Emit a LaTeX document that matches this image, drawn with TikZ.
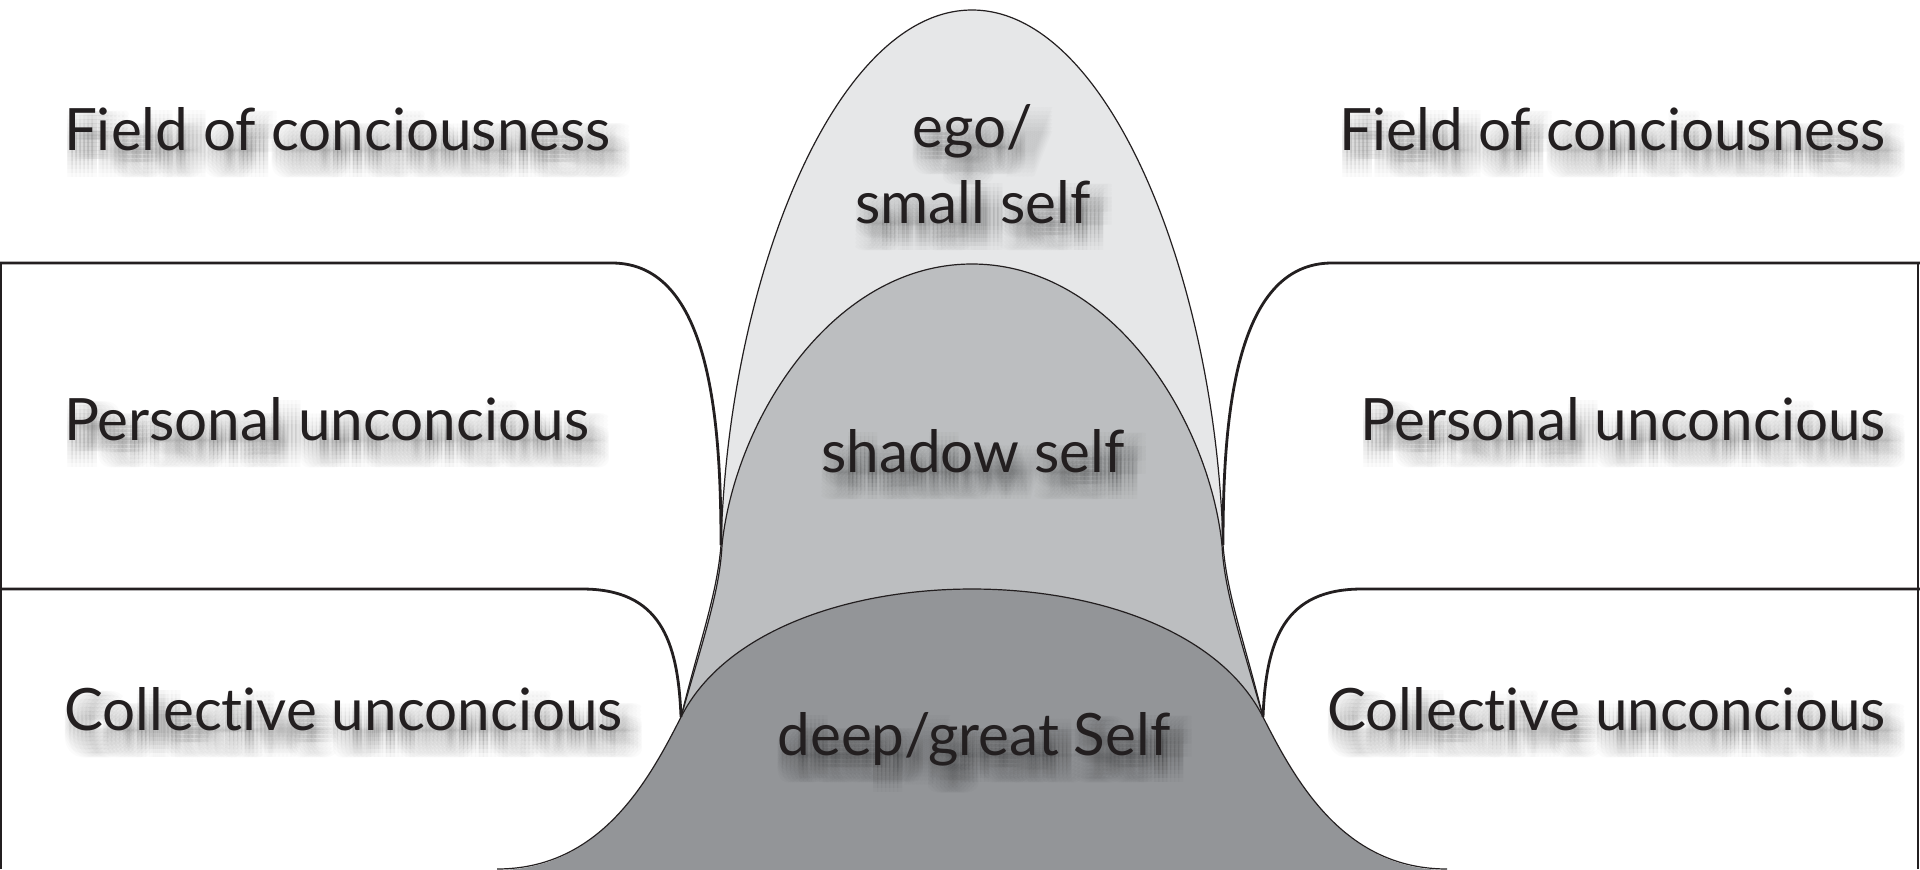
\documentclass[tikz,border=0pt]{standalone}
\usepackage{fontspec}
\newfontfamily\lblfont[Ligatures=NoCommon]{Lato}
\definecolor{ink}{HTML}{231F20}
\definecolor{egofill}{HTML}{E6E7E8}
\definecolor{shadowfill}{HTML}{BCBEC0}
\definecolor{deepfill}{HTML}{939598}
\newcommand{\shlabel}[5]{%
  \foreach \i in {-3,...,3}{\foreach \j in {-3,...,3}{
    \node[lbl, text=black, text opacity=0.017, anchor=#1] at ({#3+10+4*(\i)}, {#4+15+4*(\j)}) {#5};}}
  \node[lbl, anchor=#1] (#2) at (#3,#4) {#5};
}
\begin{document}
\begin{tikzpicture}[x=0.5pt,y=-0.5pt,
  lbl/.style={font=\lblfont\fontsize{29.2}{35}\selectfont, text=ink, inner sep=0pt, outer sep=0pt},
  boxline/.style={draw=ink, line width=1.4pt},
  outline/.style={draw=ink, line width=0.6pt}]
\useasboundingbox (0,0) rectangle (1920,869);
\fill[white] (0,0) rectangle (1920,869);

% junction points
\coordinate (jl) at (681,717);
\coordinate (jr) at (1263,717);
\coordinate (pl) at (721,545);
\coordinate (pr) at (1223,545);

% frame lines
\draw[boxline] (1,869) -- (1,263);
\draw[boxline] (1918,869) -- (1918,263);

% ego
\path[fill=egofill] (jl) .. controls (700,640) and (717,595) .. (pl)
  .. controls (728,280) and (835,10) .. (972,10)
  .. controls (1109,10) and (1216,280) .. (pr)
  .. controls (1227,595) and (1244,640) .. (jr) -- cycle;
\draw[outline] (jl) .. controls (700,640) and (717,595) .. (pl)
  .. controls (728,280) and (835,10) .. (972,10)
  .. controls (1109,10) and (1216,280) .. (pr)
  .. controls (1227,595) and (1244,640) .. (jr);

% shadow
\path[fill=shadowfill] (jl) .. controls (703,640) and (720,590) .. (722,545)
  .. controls (735,420) and (832,264) .. (972,264)
  .. controls (1112,264) and (1209,420) .. (1222,545)
  .. controls (1224,590) and (1241,640) .. (jr) -- cycle;
\draw[outline] (jl) .. controls (703,640) and (720,590) .. (722,545)
  .. controls (735,420) and (832,264) .. (972,264)
  .. controls (1112,264) and (1209,420) .. (1222,545)
  .. controls (1224,590) and (1241,640) .. (jr);

% deep
\path[fill=deepfill] (497,870) .. controls (600,870) and (648,782) .. (jl)
  .. controls (725,630) and (850,589) .. (972,589)
  .. controls (1094,589) and (1219,630) .. (jr)
  .. controls (1296,782) and (1344,870) .. (1447,870) -- cycle;
\draw[outline] (497,869) .. controls (600,869) and (648,782) .. (jl)
  .. controls (725,630) and (850,589) .. (972,589)
  .. controls (1094,589) and (1219,630) .. (jr)
  .. controls (1296,782) and (1344,869) .. (1447,869);

% layer boundaries
\draw[boxline] (0,263) -- (612,263) .. controls (710,263) and (721,420) .. (pl);
\draw[boxline] (0,589) -- (582,589) .. controls (660,589) and (678,640) .. (jl);
\draw[boxline] (1920,263) -- (1332,263) .. controls (1234,263) and (1223,420) .. (pr);
\draw[boxline] (1920,589) -- (1362,589) .. controls (1284,589) and (1266,640) .. (jr);

% labels
\shlabel{base west}{fcl}{64}{150}{Field of conciousness}
\shlabel{base east}{fcr}{1886}{150}{Field of conciousness}
\shlabel{base west}{pul}{64}{440}{Personal unconcious}
\shlabel{base east}{pur}{1886}{440}{Personal unconcious}
\shlabel{base west}{cul}{64}{730}{Collective unconcious}
\shlabel{base east}{cur}{1886}{730}{Collective unconcious}
\shlabel{base}{ego}{973}{147}{ego/}
\shlabel{base}{small}{973}{223}{small self}
\shlabel{base}{shadow}{973}{472}{shadow self}
\shlabel{base}{deep}{974}{755}{deep/great Self}
\end{tikzpicture}
\end{document}
